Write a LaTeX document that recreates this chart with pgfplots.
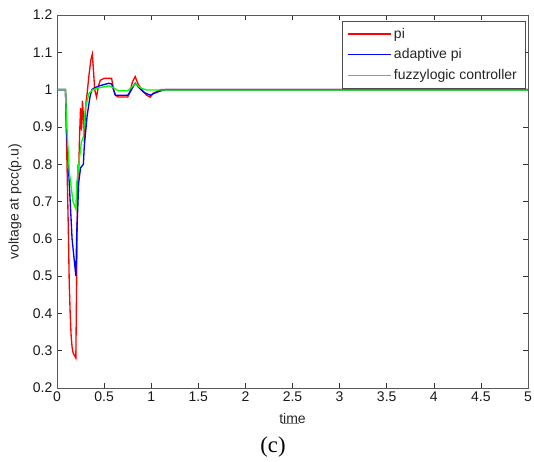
\documentclass[border=0pt]{standalone}
\usepackage{fontspec}
\setmainfont{Liberation Sans}
\newfontfamily\capfont{Liberation Serif}
\usepackage{pgfplots}
\pgfplotsset{compat=1.18}

\begin{document}
\begin{tikzpicture}
\useasboundingbox (-42.75pt,-54.75pt) rectangle (357.75pt,291pt);
\begin{axis}[
  scale only axis,
  width=353.25pt, height=279.75pt,
  at={(0,0)}, anchor=south west,
  xmin=0, xmax=5, ymin=0.2, ymax=1.2,
  xtick={0,0.5,1,1.5,2,2.5,3,3.5,4,4.5,5},
  ytick={0.2,0.3,0.4,0.5,0.6,0.7,0.8,0.9,1,1.1,1.2},
  tick align=inside,
  major tick length=3.75pt,
  axis line style={black!65},
  every tick/.style={black!80},
  tick label style={font=\fontsize{10.5}{12}\selectfont, text=black!90},
  /pgf/number format/assume math mode=true,
  xticklabel style={yshift=1pt},
  xlabel={time},
  ylabel={voltage at pcc(p.u)},
  label style={font=\fontsize{10.5}{12}\selectfont, text=black!85},
  xlabel style={at={(axis description cs:0.5,-0.0804)}, anchor=center},
  ylabel style={at={(axis description cs:-0.0892,0.5)}, anchor=center},
  legend cell align=left,
  legend style={at={(rel axis cs:0.994,0.984)}, anchor=north east,
    draw=black!70, font=\fontsize{10.5}{12}\selectfont, text=black!85,
    row sep=2.5pt, inner xsep=4pt, inner ysep=3pt},
  legend image code/.code={\draw[#1, line width=1pt] (0pt,0pt) -- (32pt,0pt);},
]
\addplot[red, line width=1pt] coordinates {
 (0,1) (0.09,1) (0.095,0.95) (0.1,0.88) (0.11,0.75) (0.12,0.63) (0.13,0.48)
 (0.14,0.40) (0.15,0.34) (0.16,0.31) (0.17,0.295) (0.18,0.29) (0.19,0.285)
 (0.2,0.28) (0.205,0.40) (0.21,0.53) (0.215,0.67) (0.22,0.75) (0.225,0.80)
 (0.23,0.78) (0.24,0.88) (0.25,0.95) (0.26,0.89) (0.27,0.97) (0.28,0.93)
 (0.29,0.86) (0.30,0.93) (0.31,0.97) (0.32,0.99) (0.34,1.04) (0.36,1.08)
 (0.375,1.095) (0.385,1.06) (0.40,1.00) (0.42,0.98) (0.44,1.01) (0.46,1.025)
 (0.50,1.03) (0.58,1.03) (0.60,1.00) (0.62,0.985) (0.65,0.98) (0.70,0.98)
 (0.75,0.98) (0.77,0.99) (0.80,1.02) (0.83,1.035) (0.86,1.015) (0.90,1.00)
 (0.95,0.985) (0.99,0.98) (1.02,0.99) (1.06,0.995) (1.10,1.00) (5,1.00)
};
\addlegendentry{pi}
\addplot[blue, line width=1pt] coordinates {
 (0,1) (0.09,1) (0.10,0.90) (0.12,0.80) (0.14,0.70) (0.16,0.60) (0.18,0.55)
 (0.20,0.50) (0.21,0.62) (0.22,0.68) (0.23,0.75) (0.25,0.79) (0.28,0.80)
 (0.29,0.85) (0.32,0.93) (0.35,0.98) (0.37,1.00) (0.40,1.005) (0.45,1.01)
 (0.55,1.017) (0.58,1.015) (0.60,1.00) (0.62,0.985) (0.75,0.985) (0.78,0.995)
 (0.83,1.017) (0.87,1.005) (0.92,0.993) (0.99,0.985) (1.05,0.992) (1.12,0.998)
 (1.15,1.00) (5,1.00)
};
\addlegendentry{adaptive pi}
\addplot[green, line width=1pt] coordinates {
 (0,1) (0.09,1) (0.10,0.92) (0.13,0.78) (0.17,0.70) (0.20,0.68) (0.21,0.75)
 (0.24,0.82) (0.26,0.86) (0.28,0.874) (0.30,0.95) (0.34,0.99) (0.38,1.00)
 (0.45,1.005) (0.55,1.01) (0.60,1.005) (0.65,0.997) (0.75,0.997) (0.83,1.015)
 (0.90,1.003) (0.95,0.999) (5,0.999)
};
\addlegendentry{fuzzylogic controller}
\end{axis}
\draw[cyan!60!blue!70, line width=0.8pt] (168.75pt,-26.6pt) -- (181.5pt,-26.6pt);
\node[font=\capfont\fontsize{17}{19}\selectfont, anchor=center] at (162pt,-44.25pt) {(c)};
\end{tikzpicture}
\end{document}
